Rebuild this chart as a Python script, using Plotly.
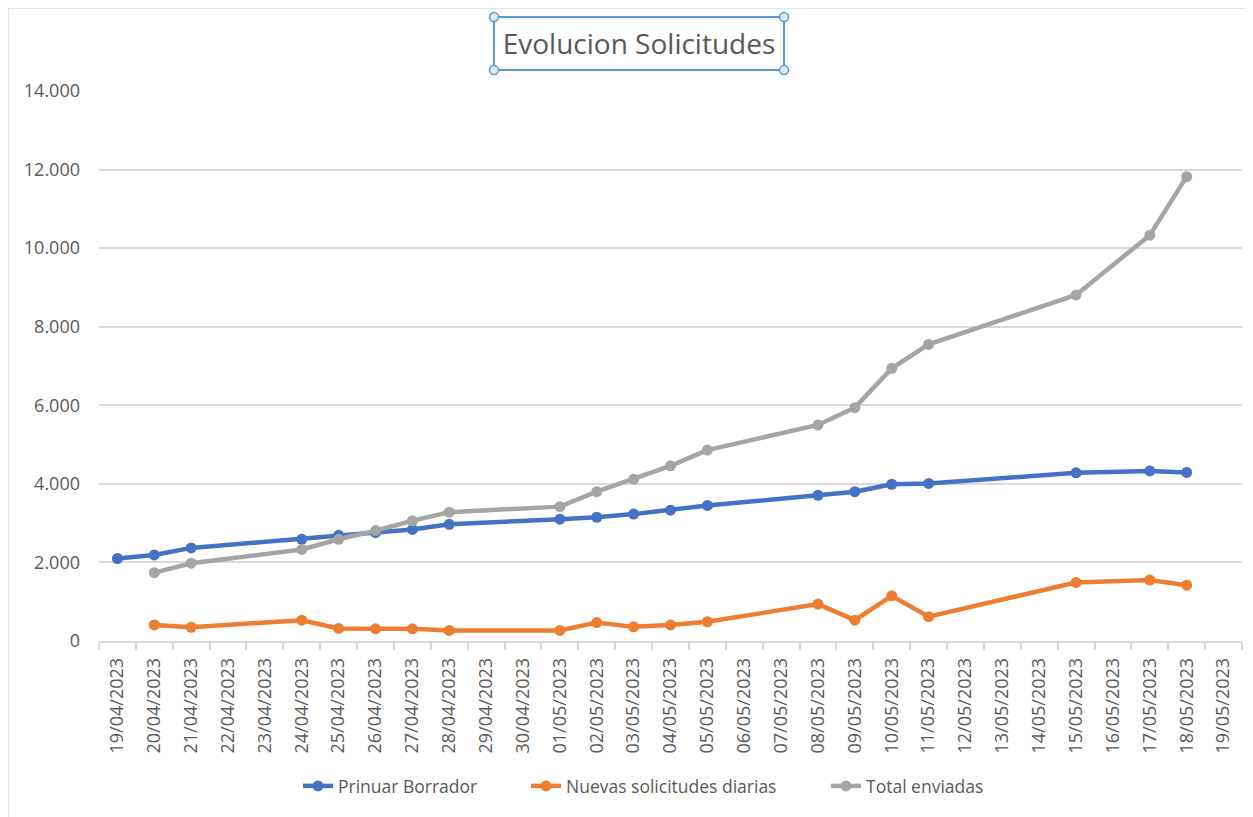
import plotly.graph_objects as go

dates = ["2023-04-19", "2023-04-20", "2023-04-21", "2023-04-24", "2023-04-25",
         "2023-04-26", "2023-04-27", "2023-04-28", "2023-05-01", "2023-05-02",
         "2023-05-03", "2023-05-04", "2023-05-05", "2023-05-08", "2023-05-09",
         "2023-05-10", "2023-05-11", "2023-05-15", "2023-05-17", "2023-05-18"]

primer_borrador = [2100, 2190, 2370, 2590, 2690, 2760, 2840, 2970, 3100, 3150,
                   3230, 3330, 3450, 3710, 3800, 3990, 4010, 4280, 4330, 4290]
nuevas_diarias = [None, 410, 350, 530, 320, 310, 310, 270, 270, 470,
                  360, 410, 490, 940, 530, 1150, 620, 1490, 1550, 1420]
total_enviadas = [None, 1740, 1980, 2330, 2590, 2810, 3060, 3280, 3420, 3800,
                  4120, 4460, 4860, 5500, 5940, 6940, 7550, 8810, 10330, 11820]

series_names = ["Prinuar Borrador", "Nuevas solicitudes diarias", "Total enviadas"]
series_colors = ["#4472C4", "#ED7D31", "#A5A5A5"]
title_text = "Evolucion Solicitudes"

# page has an 8px body margin; work in page pixels and convert
OFF = 8
W, H = 1253 - OFF, 817 - OFF
L, R, T, B = 99 - OFF, 1242 - OFF, 91 - OFF, 641 - OFF
FONT = "Open Sans"
TXT = "#595959"
GRID = "#d9d9d9"


def px(p):
    return (p - OFF - L) / (R - L)


def py(q):
    return (B - (q - OFF)) / (B - T)


legend_keys = ["legend", "legend2", "legend3"]
legend_left = [298, 526, 826]

fig = go.Figure()
for name, vals, col, lk in zip(series_names, [primer_borrador, nuevas_diarias, total_enviadas],
                               series_colors, legend_keys):
    fig.add_trace(go.Scatter(
        x=dates, y=vals, name=name, mode="lines+markers",
        line=dict(color=col, width=4.5),
        marker=dict(color=col, size=11),
        connectgaps=False, legend=lk,
    ))

shapes = [
    dict(type="line", xref="paper", yref="paper", x0=px(8), x1=px(8), y0=py(8), y1=py(830),
         line=dict(color=GRID, width=1.5)),
    dict(type="line", xref="paper", yref="paper", x0=px(8), x1=px(1260), y0=py(8), y1=py(8),
         line=dict(color=GRID, width=1.5)),
    dict(type="rect", xref="paper", yref="paper", x0=px(494), x1=px(784), y0=py(70), y1=py(17),
         line=dict(color="#5B9BD5", width=2), fillcolor="rgba(0,0,0,0)"),
]
for cx, cy in [(494, 17), (784, 17), (494, 70), (784, 70)]:
    shapes.append(dict(type="circle", xref="paper", yref="paper",
                       xsizemode="pixel", ysizemode="pixel",
                       xanchor=px(cx), yanchor=py(cy),
                       x0=-4.5, x1=4.5, y0=-4.5, y1=4.5,
                       line=dict(color="#5B9BD5", width=1.5), fillcolor="#DDEBF7"))

legend_style = {}
for lk, lx in zip(legend_keys, legend_left):
    legend_style[lk] = dict(orientation="h", x=px(lx), xanchor="left", y=py(786), yanchor="middle",
                            font=dict(family=FONT, size=17.5, color=TXT),
                            bgcolor="rgba(0,0,0,0)", borderwidth=0)

fig.update_layout(
    width=W, height=H,
    margin=dict(l=L, r=W - R, t=T, b=H - B, autoexpand=False),
    paper_bgcolor="white", plot_bgcolor="white",
    separators=",.",
    font=dict(family=FONT, color=TXT, size=17),
    title=dict(text=title_text, x=(639 - OFF) / W, y=1 - (44 - OFF) / H,
               xref="container", yref="container",
               xanchor="center", yanchor="middle",
               font=dict(family=FONT, size=28, color=TXT)),
    showlegend=True,
    shapes=shapes,
    **legend_style,
)

fig.update_xaxes(
    type="date",
    range=["2023-04-18 12:00", "2023-05-19 12:00"],
    tick0="2023-04-19", dtick=86400000,
    tickformat="%d/%m/%Y", tickangle=-90,
    ticks="", showgrid=False, zeroline=False,
    showline=True, linecolor=GRID, linewidth=1.5,
    tickfont=dict(family=FONT, size=18, color=TXT),
    ticklabelstandoff=8,
    minor=dict(ticks="outside", tick0="2023-04-18 12:00", dtick=86400000,
               ticklen=7, tickcolor=GRID, tickwidth=1.5, showgrid=False),
)
fig.update_yaxes(
    range=[0, 14000], dtick=2000, tickformat=",d",
    showgrid=True, gridcolor=GRID, gridwidth=1.5,
    zeroline=False, showline=False, ticks="",
    tickfont=dict(family=FONT, size=18, color=TXT),
    ticklabelstandoff=18,
)

fig.write_html("out.html")
